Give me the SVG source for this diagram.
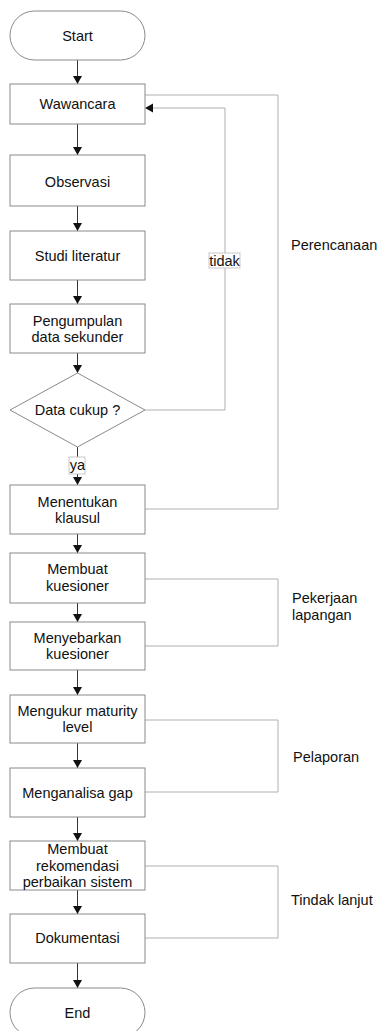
<svg xmlns="http://www.w3.org/2000/svg" width="379" height="1031" viewBox="0 0 379 1031">
<style>
.box{fill:#fff;stroke:#8a8a8a;stroke-width:1}
.t{font-family:"Liberation Sans",Arial,sans-serif;font-size:14.5px;fill:#111;text-anchor:middle}
.lbl{font-family:"Liberation Sans",Arial,sans-serif;font-size:14.5px;fill:#111}
.arr{stroke:#333;stroke-width:1;fill:none;marker-end:url(#ah)}
.br{stroke:#b0b0b0;stroke-width:1;fill:none}
.tag{fill:#fff;stroke:#c8c8c8;stroke-width:1}
</style>
<defs>
<marker id="ah" markerWidth="10" markerHeight="10" refX="8" refY="4.5" orient="auto" markerUnits="userSpaceOnUse">
<path d="M0,0 L8,4.5 L0,9 Z" fill="#111"/>
</marker>
</defs>
<rect width="379" height="1031" fill="#fff"/>
<g id="connectors">
<path class="arr" d="M77.5,60 V84"/>
<path class="arr" d="M77.5,124 V155"/>
<path class="arr" d="M77.5,206 V231"/>
<path class="arr" d="M77.5,280 V304"/>
<path class="arr" d="M77.5,353 V373"/>
<path class="arr" d="M77.5,447 V485"/>
<path class="arr" d="M77.5,534 V553"/>
<path class="arr" d="M77.5,603 V622"/>
<path class="arr" d="M77.5,670 V695"/>
<path class="arr" d="M77.5,743 V768"/>
<path class="arr" d="M77.5,817 V841"/>
<path class="arr" d="M77.5,890 V914"/>
<path class="arr" d="M77.5,963 V988"/>
<path class="br" d="M145,410 H225 V108 H153"/>
<path d="M145,108 L153,103.5 L153,112.5 Z" fill="#111"/>
<path class="br" d="M145,95 H278 V509 H145"/>
<path class="br" d="M145,579 H278 V646 H145"/>
<path class="br" d="M145,720 H278 V792 H145"/>
<path class="br" d="M145,866 H278 V938 H145"/>
<rect class="tag" x="209" y="253" width="31" height="15"/>
<text class="t" x="224.5" y="265.5">tidak</text>
<rect class="tag" x="69" y="457" width="16" height="17"/>
<text class="t" x="77.5" y="470">ya</text>
</g>
<g id="start"><rect class="box" x="10" y="11" width="135" height="49" rx="24.5"/><text class="t" x="77.5" y="41">Start</text></g>
<g id="wawancara"><rect class="box" x="10" y="84" width="135" height="40"/><text class="t" x="77.5" y="109">Wawancara</text></g>
<g id="observasi"><rect class="box" x="10" y="155" width="135" height="51"/><text class="t" x="77.5" y="187">Observasi</text></g>
<g id="studi"><rect class="box" x="10" y="231" width="135" height="49"/><text class="t" x="77.5" y="261">Studi literatur</text></g>
<g id="pengumpulan"><rect class="box" x="10" y="304" width="135" height="49"/><text class="t" x="77.5" y="326">Pengumpulan</text><text class="t" x="77.5" y="342">data sekunder</text></g>
<g id="decision"><path class="box" d="M77.5,373 L145,410 L77.5,447 L10,410 Z"/><text class="t" x="77.5" y="415">Data cukup ?</text></g>
<g id="menentukan"><rect class="box" x="10" y="485" width="135" height="49"/><text class="t" x="77.5" y="507">Menentukan</text><text class="t" x="77.5" y="523">klausul</text></g>
<g id="membuat-kuesioner"><rect class="box" x="10" y="553" width="135" height="50"/><text class="t" x="77.5" y="574">Membuat</text><text class="t" x="77.5" y="591">kuesioner</text></g>
<g id="menyebarkan"><rect class="box" x="10" y="622" width="135" height="48"/><text class="t" x="77.5" y="643">Menyebarkan</text><text class="t" x="77.5" y="659">kuesioner</text></g>
<g id="mengukur"><rect class="box" x="10" y="695" width="135" height="48"/><text class="t" x="77.5" y="716">Mengukur maturity</text><text class="t" x="77.5" y="732">level</text></g>
<g id="menganalisa"><rect class="box" x="10" y="768" width="135" height="49"/><text class="t" x="77.5" y="798">Menganalisa gap</text></g>
<g id="rekomendasi"><rect class="box" x="10" y="841" width="135" height="49"/><text class="t" x="77.5" y="854">Membuat</text><text class="t" x="77.5" y="871">rekomendasi</text><text class="t" x="77.5" y="887">perbaikan sistem</text></g>
<g id="dokumentasi"><rect class="box" x="10" y="914" width="135" height="49"/><text class="t" x="77.5" y="943">Dokumentasi</text></g>
<g id="end"><rect class="box" x="10" y="988" width="135" height="49" rx="24.5"/><text class="t" x="77.5" y="1018">End</text></g>
<g id="labels">
<text class="lbl" x="291" y="250">Perencanaan</text>
<text class="lbl" x="292" y="603">Pekerjaan</text>
<text class="lbl" x="292" y="620">lapangan</text>
<text class="lbl" x="293" y="762">Pelaporan</text>
<text class="lbl" x="291" y="905">Tindak lanjut</text>
</g>
</svg>
